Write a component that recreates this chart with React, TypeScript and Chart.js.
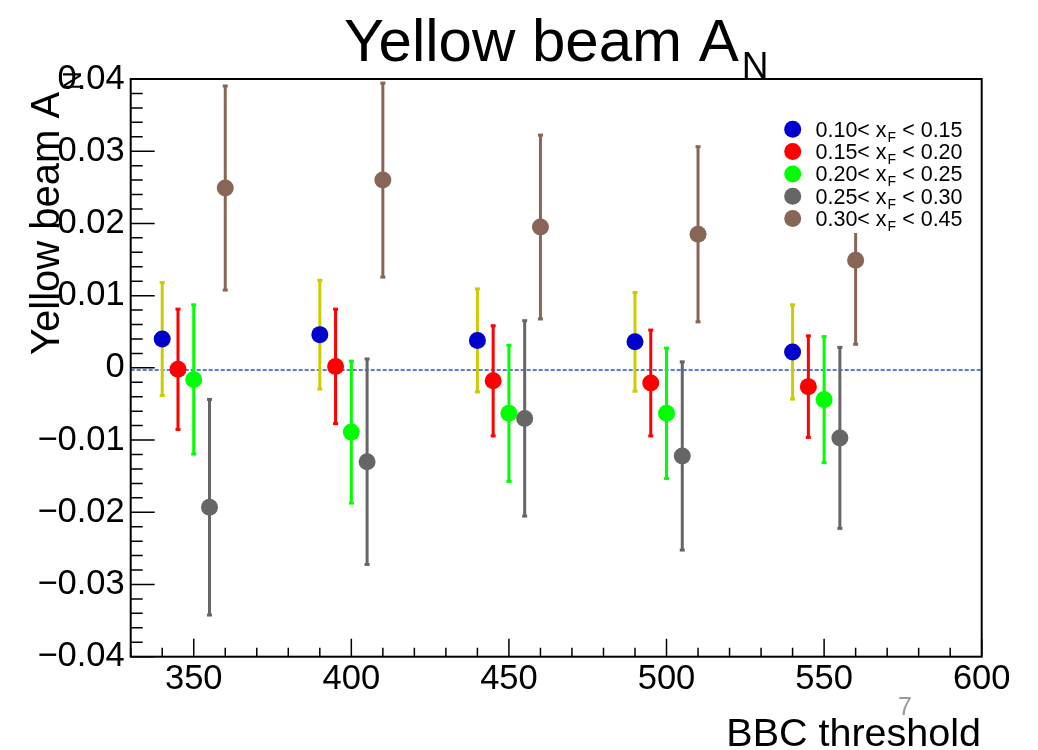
import React, { useEffect, useRef } from "react";
import { Chart, registerables } from "chart.js";

Chart.register(...registerables);

// ---------- data ----------
const xMin = 330;
const xMax = 600;
const yMin = -0.04;
const yMax = 0.04;

const xTickValues = [350, 400, 450, 500, 550, 600];
const xTickLabels = ["350", "400", "450", "500", "550", "600"];
const yTickValues = [-0.04, -0.03, -0.02, -0.01, 0, 0.01, 0.02, 0.03, 0.04];
const yTickLabels = ["\u22120.04", "\u22120.03", "\u22120.02", "\u22120.01", "0", "0.01", "0.02", "0.03", "0.04"];

const legendLo = ["0.10", "0.15", "0.20", "0.25", "0.30"];
const legendHi = ["0.15", "0.20", "0.25", "0.30", "0.45"];

const xBin1 = [340, 390, 440, 490, 540];
const yBin1 = [0.0040, 0.0046, 0.0038, 0.0036, 0.0022];
const eBin1 = [0.0079, 0.0076, 0.0072, 0.0069, 0.0066];

const xBin2 = [345, 395, 445, 495, 545];
const yBin2 = [-0.0002, 0.0002, -0.0018, -0.0021, -0.0026];
const eBin2 = [0.0084, 0.0080, 0.0077, 0.0074, 0.0071];

const xBin3 = [350, 400, 450, 500, 550];
const yBin3 = [-0.0016, -0.0089, -0.0063, -0.0063, -0.0044];
const eBin3 = [0.0104, 0.0099, 0.0095, 0.0091, 0.0088];

const xBin4 = [355, 405, 455, 505, 555];
const yBin4 = [-0.0193, -0.0130, -0.0070, -0.0122, -0.0097];
const eBin4 = [0.0150, 0.0143, 0.0136, 0.0131, 0.0126];

const xBin5 = [360, 410, 460, 510, 560];
const yBin5 = [0.0249, 0.0260, 0.0195, 0.0185, 0.0149];
const eBin5 = [0.0142, 0.0135, 0.0128, 0.0122, 0.0117];

const fitLevel = -0.0003;

const markerColors = ["#0000cc", "#ff0000", "#00ff00", "#666666", "#886655"];
const errorColors = ["#cccc00", "#ff0000", "#00ff00", "#666666", "#886655"];

const FONT = '"Liberation Sans", Arial, Helvetica, sans-serif';

function pts(xs: number[], ys: number[]) {
  return xs.map((x, i) => ({ x, y: ys[i] }));
}

const seriesX = [xBin1, xBin2, xBin3, xBin4, xBin5];
const seriesY = [yBin1, yBin2, yBin3, yBin4, yBin5];
const seriesE = [eBin1, eBin2, eBin3, eBin4, eBin5];

const rootPlugin = {
  id: "rootStyle",
  beforeDatasetDraw(chart: any, args: any) {
    const ds = chart.data.datasets[args.index];
    if (!ds.errors) return;
    const ctx = chart.ctx;
    const ys = chart.scales.y;
    const meta = args.meta;
    ctx.save();
    ctx.fillStyle = ds.errColor;
    ds.data.forEach((p: any, i: number) => {
      const el = meta.data[i];
      const x = el.x;
      const top = ys.getPixelForValue(p.y + ds.errors[i]);
      const bot = ys.getPixelForValue(p.y - ds.errors[i]);
      ctx.fillRect(x - 1.5, top, 3, bot - top);
      ctx.fillRect(x - 2.5, top - 1, 5, 3);
      ctx.fillRect(x - 2.5, bot - 2, 5, 3);
    });
    ctx.restore();
  },
  afterDraw(chart: any) {
    const ctx = chart.ctx;
    const a = chart.chartArea;
    const xs = chart.scales.x;
    const ys = chart.scales.y;
    ctx.save();
    // frame
    ctx.strokeStyle = "#000";
    ctx.lineWidth = 2;
    ctx.strokeRect(a.left, a.top, a.right - a.left, a.bottom - a.top);
    // ticks (inward)
    ctx.lineWidth = 1.5;
    ctx.beginPath();
    for (let k = -20; k <= 20; k++) {
      const py = ys.getPixelForValue(k * 0.002);
      const len = k % 5 === 0 ? 24 : 12;
      ctx.moveTo(a.left, py);
      ctx.lineTo(a.left + len, py);
    }
    for (let k = 33; k <= 60; k++) {
      const px = xs.getPixelForValue(k * 10);
      const len = k % 5 === 0 ? 18 : 9;
      ctx.moveTo(px, a.bottom);
      ctx.lineTo(px, a.bottom - len);
    }
    ctx.stroke();

    // legend
    ctx.fillStyle = "#fff";
    ctx.fillRect(772, 113, 203, 120);
    for (let i = 0; i < 5; i++) {
      const cy = 129.3 + 22.3 * i;
      ctx.fillStyle = markerColors[i];
      ctx.beginPath();
      ctx.arc(792.7, cy, 8.5, 0, Math.PI * 2);
      ctx.fill();
      ctx.fillStyle = "#000";
      ctx.textBaseline = "alphabetic";
      ctx.textAlign = "left";
      const base = cy + 7.5;
      let x = 815.5;
      ctx.font = `21.5px ${FONT}`;
      const p1 = legendLo[i] + "< x";
      ctx.fillText(p1, x, base);
      x += ctx.measureText(p1).width;
      ctx.font = `14px ${FONT}`;
      ctx.fillText("F", x + 1, base + 5);
      x += ctx.measureText("F").width + 1;
      ctx.font = `21.5px ${FONT}`;
      ctx.fillText(" < " + legendHi[i], x, base);
    }

    // title
    ctx.fillStyle = "#000";
    ctx.font = `60px ${FONT}`;
    ctx.textAlign = "left";
    ctx.textBaseline = "alphabetic";
    const t = "Yellow beam A";
    ctx.fillText(t, 344, 61);
    const tw = ctx.measureText(t).width;
    ctx.font = `37px ${FONT}`;
    ctx.fillText("N", 344 + tw + 3, 78);

    // y title
    ctx.save();
    ctx.translate(59, 355);
    ctx.rotate(-Math.PI / 2);
    ctx.font = `40px ${FONT}`;
    const yt = "Yellow beam A";
    ctx.fillText(yt, 0, 0);
    const yw = ctx.measureText(yt).width;
    ctx.font = `26px ${FONT}`;
    ctx.fillText("N", yw + 2, 22);
    ctx.restore();

    // x title
    ctx.font = `39.5px ${FONT}`;
    ctx.textAlign = "right";
    ctx.fillText("BBC threshold", 981, 746);

    // page number
    ctx.fillStyle = "#999";
    ctx.font = `25px ${FONT}`;
    ctx.textAlign = "left";
    ctx.fillText("7", 898, 715);
    ctx.restore();
  },
};

export default function App() {
  const ref = useRef<HTMLCanvasElement | null>(null);
  useEffect(() => {
    if (!ref.current) return;
    const datasets: any[] = seriesX.map((xsArr, i) => ({
      type: "scatter",
      label: legendLo[i] + "< xF < " + legendHi[i],
      data: pts(xsArr, seriesY[i]),
      errors: seriesE[i],
      errColor: errorColors[i],
      backgroundColor: markerColors[i],
      borderColor: markerColors[i],
      pointRadius: 8.5,
      pointBorderWidth: 0,
      pointHoverRadius: 8.5,
      order: 5 - i,
    }));
    datasets.push({
      type: "line",
      label: "fit",
      data: [
        { x: xMin, y: fitLevel },
        { x: xMax, y: fitLevel },
      ],
      borderColor: "#1e50e0",
      borderWidth: 1.4,
      borderDash: [4, 2],
      pointRadius: 0,
      order: 10,
    });
    const chart = new Chart(ref.current, {
      type: "scatter",
      data: { datasets },
      options: {
        responsive: false,
        animation: false,
        events: [],
        layout: { padding: { left: 0, top: 79, right: 1038 - 981.7, bottom: 0 } },
        plugins: {
          legend: { display: false },
          title: { display: false },
          tooltip: { enabled: false },
        },
        scales: {
          x: {
            type: "linear",
            min: xMin,
            max: xMax,
            grid: { display: false, drawTicks: false },
            border: { display: false },
            afterBuildTicks: (s: any) => {
              s.ticks = xTickValues.map((v) => ({ value: v }));
            },
            afterFit: (s: any) => {
              s.height = 750 - 656.7;
            },
            ticks: {
              autoSkip: false,
              maxRotation: 0,
              padding: 2,
              color: "#000",
              font: { family: FONT, size: 34.5 },
              callback: (_v: any, i: number) => xTickLabels[i],
            },
          },
          y: {
            type: "linear",
            min: yMin,
            max: yMax,
            grid: { display: false, drawTicks: false },
            border: { display: false },
            afterBuildTicks: (s: any) => {
              s.ticks = yTickValues.map((v) => ({ value: v }));
            },
            afterFit: (s: any) => {
              s.width = 130.7;
            },
            ticks: {
              autoSkip: false,
              padding: 6,
              color: "#000",
              font: { family: FONT, size: 34.5 },
              callback: (_v: any, i: number) => yTickLabels[i],
            },
          },
        },
      } as any,
      plugins: [rootPlugin as any],
    });
    return () => chart.destroy();
  }, []);
  return (
    <div style={{ position: "fixed", left: 0, top: 0, width: 1038, height: 750, background: "#fff" }}>
      <canvas ref={ref} width={1038} height={750} style={{ display: "block" }} />
    </div>
  );
}
